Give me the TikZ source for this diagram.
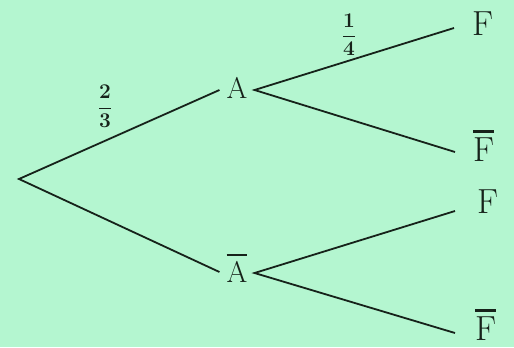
\RequirePackage{fix-cm}
\documentclass[tikz,border=0pt]{standalone}
\definecolor{bg}{RGB}{180,246,208}
\definecolor{ink}{RGB}{22,34,26}
\newcommand{\barred}[1]{\leavevmode\vbox{\hrule height 2.4bp\kern 4.5bp\hbox{#1}}}
\tikzset{
  branch/.style={draw=ink, line width=1.8bp, line join=miter},
  midnode/.style={font=\fontsize{30}{36}\selectfont, text=ink, inner xsep=7bp, inner ysep=0pt, anchor=base},
  leafnode/.style={font=\fontsize{35}{42}\selectfont, text=ink, inner sep=0pt, anchor=base west},
  probnode/.style={font=\fontsize{21}{25}\selectfont, text=ink, inner sep=0pt}
}
\begin{document}
\begin{tikzpicture}[x=1bp,y=-1bp]
\fill[bg] (0,0) rectangle (514,347);
\useasboundingbox (0,0) rectangle (514,347);
\coordinate (O) at (19,179);
\node[midnode] (A) at (237,98) {A};
\node[midnode] (Ab) at (237,282) {\barred{A}};
\node[leafnode] (F1) at (472,35) {F};
\node[leafnode] (G1) at (473,161) {\barred{F}};
\node[leafnode] (F2) at (477,213) {F};
\node[leafnode] (G2) at (475,340) {\barred{F}};
\draw[branch] ([yshift=8bp]A.base west) -- (O) -- ([yshift=10bp]Ab.base west);
\draw[branch] ([xshift=-18bp,yshift=7bp]F1.base west) -- ([yshift=8bp]A.base east) -- ([xshift=-18bp,yshift=9bp]G1.base west);
\draw[branch] ([xshift=-22bp,yshift=2bp]F2.base west) -- ([yshift=9bp]Ab.base east) -- ([xshift=-20bp,yshift=7bp]G2.base west);
\node[probnode] (p1) at (105,106.5) {$\displaystyle\frac{\mathbf{2}}{\mathbf{3}}$};
\node[probnode] (p2) at (349,35) {$\displaystyle\frac{\mathbf{1}}{\mathbf{4}}$};
\end{tikzpicture}
\end{document}
